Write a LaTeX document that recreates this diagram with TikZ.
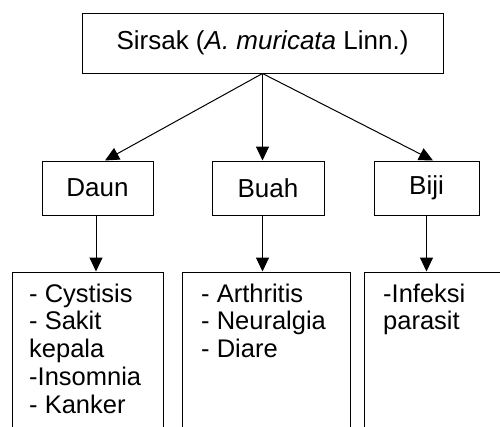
\documentclass[tikz,border=0pt]{standalone}
\usepackage{fontspec}
\setmainfont{Liberation Sans}
\usetikzlibrary{arrows.meta,calc}
\begin{document}
\begin{tikzpicture}[x=1pt,y=-1pt,
  box/.style={draw,line width=1pt,inner sep=0pt},
  txt/.style={inner sep=0pt,align=left,anchor=base west,font=\fontsize{25.5}{27.8}\selectfont},
  arr/.style={line width=1pt,-{Triangle[length=14pt,width=13pt]}}]
\clip (0,0) rectangle (500,426);
\fill[white] (0,0) rectangle (500,426);
% top
\node[box,minimum width=361pt,minimum height=60pt,font=\fontsize{26}{28}\selectfont] (top) at (262.5,43) {Sirsak (\textit{A. muricata} Linn.)};
% middle
\node[box,minimum width=111pt,minimum height=54pt,font=\fontsize{26}{28}\selectfont] (daun) at (97.5,188) {Daun};
\node[box,minimum width=112pt,minimum height=54pt,font=\fontsize{26}{28}\selectfont] (buah) at (268,188) {Buah};
\node[box,minimum width=105pt,minimum height=54pt,font=\fontsize{26}{28}\selectfont] (biji) at (426.5,188) {Biji};
% bottom boxes (cut off by the picture edge)
\node[box,minimum width=151pt,minimum height=168pt] (bl) at (87.5,356) {};
\node[box,minimum width=168pt,minimum height=168pt] (bm) at (266,356) {};
\node[box,minimum width=151pt,minimum height=168pt] (br) at (439.5,356) {};
% texts (base anchor = baseline of the last line)
\node[txt] (tl) at (29,413.2) {- Cystisis\\- Sakit\\kepala\\-Insomnia\\- Kanker};
\node[txt] (tm) at (201,357.6) {- Arthritis\\- Neuralgia\\- Diare};
\node[txt] (tr) at (383,329.8) {-Infeksi\\parasit};
% arrows
\draw[arr] (top.south) -- ($(daun.north)+(7.5,0)$);
\draw[arr] (top.south) -- (top.south |- buah.north);
\draw[arr] (top.south) -- ($(biji.north)+(6.5,0)$);
\draw[arr] ($(daun.south)+(-1.5,0)$) -- ($(daun.south |- bl.north)+(-1.5,0)$);
\draw[arr] (top.south |- buah.south) -- (top.south |- bm.north);
\draw[arr] (biji.south) -- (biji.south |- br.north);
\end{tikzpicture}
\end{document}
